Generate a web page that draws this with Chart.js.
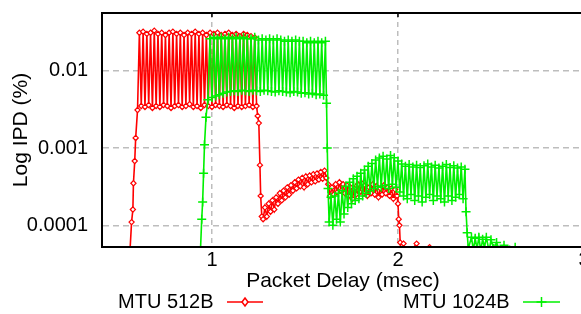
<!DOCTYPE html>
<html lang="en">
<head>
<meta charset="UTF-8">
<title>Log IPD vs Packet Delay</title>
<script src="https://cdn.jsdelivr.net/npm/chart.js"></script>
<style>
  html, body { margin: 0; padding: 0; background: #fff; overflow: hidden; }
  #chart { display: block; }
</style>
</head>
<body>
<canvas id="chart" width="600" height="314"></canvas>
<script>
// Series names and axis ticks
const seriesNames = ['MTU 512B', 'MTU 1024B'];
const xTicks = [1, 2, 3];
const yTicks = [0.0001, 0.001, 0.01];
const yTickLabels = ['0.0001', '0.001', '0.01'];
const xMin = 0.409, xMax = 3;
const yMin = 0.0000524, yMax = 0.0558;

// MTU 512B (red)
const redX = [
  0.555, 0.568, 0.575, 0.578, 0.585, 0.590, 0.600,
  0.610, 0.620, 0.630, 0.640, 0.650, 0.660, 0.670, 0.680, 0.690, 0.700,
  0.710, 0.720, 0.730, 0.740, 0.750, 0.760, 0.770, 0.780, 0.790, 0.800,
  0.810, 0.820, 0.830, 0.840, 0.850, 0.860, 0.870, 0.880, 0.890, 0.900,
  0.910, 0.920, 0.930, 0.940, 0.950, 0.960, 0.970, 0.980, 0.990, 1.000,
  1.010, 1.020, 1.030, 1.040, 1.050, 1.060, 1.070, 1.080, 1.090, 1.100,
  1.110, 1.120, 1.130, 1.140, 1.150, 1.160, 1.170, 1.180, 1.190, 1.200,
  1.210, 1.220, 1.230, 1.240,
  1.246, 1.252, 1.258, 1.262, 1.268,
  1.275, 1.285, 1.295, 1.305, 1.315, 1.325, 1.335, 1.345, 1.355, 1.365,
  1.375, 1.385, 1.395, 1.405, 1.415, 1.425, 1.435, 1.445, 1.455, 1.465,
  1.475, 1.485, 1.495, 1.505, 1.515, 1.525, 1.535, 1.545, 1.555, 1.565,
  1.575, 1.585, 1.595, 1.605, 1.615,
  1.625, 1.635, 1.645, 1.655, 1.665, 1.675, 1.685, 1.695, 1.705, 1.715,
  1.725, 1.735, 1.745, 1.755, 1.765, 1.775, 1.785, 1.795, 1.805, 1.815,
  1.825, 1.835, 1.845, 1.855, 1.865, 1.875, 1.885, 1.895, 1.905, 1.915,
  1.925, 1.935, 1.945, 1.955, 1.965, 1.975, 1.985, 1.995,
  2.000, 2.004, 2.008, 2.012, 2.020, 2.030, 2.050, 2.100, 2.120, 2.170, 2.180
];
const redY = [
  0.00003, 0.00011, 0.00016, 0.00035, 0.00068, 0.00135, 0.0031,
  0.031, 0.0035, 0.032, 0.0034, 0.030, 0.0036, 0.031, 0.0033, 0.033, 0.0035,
  0.030, 0.0034, 0.031, 0.0036, 0.029, 0.0035, 0.031, 0.0033, 0.032, 0.0035,
  0.030, 0.0036, 0.031, 0.0034, 0.029, 0.0035, 0.031, 0.0037, 0.030, 0.0034,
  0.032, 0.0035, 0.030, 0.0033, 0.031, 0.0036, 0.029, 0.0035, 0.031, 0.0034,
  0.030, 0.0036, 0.031, 0.0035, 0.029, 0.0034, 0.030, 0.0036, 0.031, 0.0035,
  0.029, 0.0033, 0.030, 0.0035, 0.028, 0.0034, 0.030, 0.0035, 0.029, 0.0036,
  0.028, 0.0034, 0.027, 0.0035,
  0.0026, 0.0021, 0.0006, 0.00024, 0.00013,
  0.00012, 0.00017, 0.00013, 0.00019, 0.00015, 0.00021, 0.00016, 0.00023, 0.00019, 0.00026,
  0.00021, 0.00028, 0.00023, 0.00031, 0.00025, 0.00033, 0.00028, 0.00036, 0.00030, 0.00039,
  0.00032, 0.00041, 0.00031, 0.00043, 0.00034, 0.00044, 0.00036, 0.00046, 0.00037, 0.00047,
  0.00039, 0.00049, 0.00040, 0.00051, 0.00041,
  0.00034, 0.00024, 0.00031, 0.00025, 0.00034, 0.00027, 0.00036, 0.00028, 0.00034, 0.00026,
  0.00033, 0.00024, 0.00031, 0.00022, 0.00030, 0.00025, 0.00034, 0.00027, 0.00035, 0.00026,
  0.00033, 0.00024, 0.00031, 0.00026, 0.00034, 0.00025, 0.00032, 0.00023, 0.00030, 0.00025,
  0.00033, 0.00026, 0.00031, 0.00024, 0.00030, 0.00022, 0.00029, 0.00024,
  0.00019, 0.00012, 0.0001, 0.00006, 0.00004, 0.000058, 0.00004, 0.000058, 0.00004, 0.000052, 0.00003
];

// MTU 1024B (green)
const greenX = [
  0.935, 0.945, 0.950, 0.955, 0.960, 0.968, 0.978,
  0.990, 1.000, 1.010, 1.020, 1.030, 1.040, 1.050, 1.060, 1.070, 1.080,
  1.090, 1.100, 1.110, 1.120, 1.130, 1.140, 1.150, 1.160, 1.170, 1.180,
  1.190, 1.200, 1.210, 1.220, 1.230, 1.240, 1.250, 1.260, 1.270, 1.280,
  1.290, 1.300, 1.310, 1.320, 1.330, 1.340, 1.350, 1.360, 1.370, 1.380,
  1.390, 1.400, 1.410, 1.420, 1.430, 1.440, 1.450, 1.460, 1.470, 1.480,
  1.490, 1.500, 1.510, 1.520, 1.530, 1.540, 1.550, 1.560, 1.570, 1.580,
  1.590, 1.600, 1.610,
  1.616, 1.620, 1.624,
  1.630, 1.640, 1.650, 1.660, 1.670, 1.680, 1.690, 1.700, 1.710, 1.720,
  1.730, 1.740, 1.750, 1.760, 1.770, 1.780, 1.790, 1.800, 1.810, 1.820,
  1.830, 1.840, 1.850, 1.860, 1.870, 1.880, 1.890, 1.900, 1.910, 1.920,
  1.930, 1.940, 1.950, 1.960, 1.970, 1.980, 1.990, 2.000, 2.010, 2.020,
  2.030, 2.040, 2.050, 2.060, 2.070, 2.080, 2.090, 2.100, 2.110, 2.120,
  2.130, 2.140, 2.150, 2.160, 2.170, 2.180, 2.190, 2.200, 2.210, 2.220,
  2.230, 2.240, 2.250, 2.260, 2.270, 2.280, 2.290, 2.300, 2.310, 2.320,
  2.330, 2.340, 2.350, 2.360, 2.366, 2.372, 2.378,
  2.395, 2.405, 2.415, 2.425, 2.435, 2.445, 2.455, 2.465, 2.475, 2.490,
  2.500, 2.515, 2.530, 2.550, 2.570, 2.600, 2.630, 2.650
];
const greenY = [
  0.00003, 0.00012, 0.0002, 0.00047, 0.0011, 0.0025, 0.0042,
  0.026, 0.0045, 0.027, 0.0047, 0.026, 0.0049, 0.027, 0.0051, 0.026, 0.0053,
  0.027, 0.0054, 0.026, 0.0055, 0.027, 0.0054, 0.026, 0.0056, 0.027, 0.0055,
  0.026, 0.0054, 0.026, 0.0056, 0.027, 0.0055, 0.025, 0.0054, 0.026, 0.0056,
  0.025, 0.0055, 0.026, 0.0054, 0.025, 0.0053, 0.026, 0.0055, 0.025, 0.0054,
  0.024, 0.0053, 0.025, 0.0052, 0.024, 0.0054, 0.025, 0.0053, 0.024, 0.0051,
  0.024, 0.0052, 0.023, 0.0050, 0.024, 0.0051, 0.023, 0.0049, 0.024, 0.0050,
  0.023, 0.0048, 0.024,
  0.0038, 0.001, 0.0003,
  0.00011, 0.00023, 0.00010, 0.00024, 0.00012, 0.00026, 0.00011, 0.00028, 0.00014, 0.00032,
  0.00017, 0.00036, 0.00019, 0.00040, 0.00021, 0.00043, 0.00022, 0.00047, 0.00024, 0.00052,
  0.00026, 0.00058, 0.00028, 0.00063, 0.00030, 0.00070, 0.00032, 0.00074, 0.00031, 0.00078,
  0.00033, 0.00072, 0.00030, 0.00080, 0.00034, 0.00075, 0.00031, 0.00068, 0.00027, 0.00062,
  0.00024, 0.00058, 0.00022, 0.00061, 0.00025, 0.00057, 0.00021, 0.00060, 0.00024, 0.00056,
  0.00020, 0.00059, 0.00023, 0.00062, 0.00025, 0.00057, 0.00021, 0.00060, 0.00024, 0.00055,
  0.00022, 0.00058, 0.00020, 0.00061, 0.00024, 0.00056, 0.00021, 0.00059, 0.00023, 0.00055,
  0.00025, 0.00057, 0.00022, 0.00053, 0.00015, 0.00008, 0.00005,
  0.00007, 0.000048, 0.000068, 0.00005, 0.00007, 0.000047, 0.000066, 0.000052, 0.00007, 0.000046,
  0.000065, 0.00005, 0.00006, 0.000045, 0.000055, 0.000048, 0.000052, 0.00004
];

const RED = '#ff0000';
const GREEN = '#00f000';

function toPoints(xs, ys) {
  return xs.map((x, i) => ({ x: x, y: ys[i] }));
}

// frame round the plot area plus the gnuplot-style legend under the axis
const framePlugin = {
  id: 'frame',
  afterDatasetsDraw(chart) {
    const { ctx, chartArea: a, scales } = chart;
    ctx.save();
    ctx.strokeStyle = '#000';
    ctx.lineWidth = 2;
    ctx.strokeRect(a.left, a.top, a.right - a.left, a.bottom - a.top);
    ctx.lineWidth = 1.5;
    xTicks.forEach(v => {
      const px = scales.x.getPixelForValue(v);
      ctx.beginPath();
      ctx.moveTo(px, a.top);
      ctx.lineTo(px, a.top + 4);
      ctx.stroke();
    });
    ctx.restore();
  },
  afterDraw(chart) {
    const ctx = chart.ctx;
    const y = 302;
    const items = [
      { text: seriesNames[0], color: RED, textX: 118, x1: 227, x2: 263, marker: 'diamond' },
      { text: seriesNames[1], color: GREEN, textX: 403, x1: 523, x2: 560, marker: 'plus' }
    ];
    ctx.save();
    ctx.font = '20px "Liberation Sans", Arial, sans-serif';
    ctx.textBaseline = 'middle';
    ctx.textAlign = 'left';
    items.forEach(it => {
      ctx.fillStyle = '#000';
      ctx.fillText(it.text, it.textX, y);
      ctx.strokeStyle = it.color;
      ctx.lineWidth = 1.5;
      ctx.beginPath();
      ctx.moveTo(it.x1, y);
      ctx.lineTo(it.x2, y);
      ctx.stroke();
      const cx = (it.x1 + it.x2) / 2;
      ctx.beginPath();
      if (it.marker === 'diamond') {
        ctx.fillStyle = '#fff';
        ctx.moveTo(cx, y - 4);
        ctx.lineTo(cx + 3, y);
        ctx.lineTo(cx, y + 4);
        ctx.lineTo(cx - 3, y);
        ctx.closePath();
        ctx.fill();
        ctx.stroke();
      } else {
        ctx.moveTo(cx - 5, y);
        ctx.lineTo(cx + 5, y);
        ctx.moveTo(cx, y - 5);
        ctx.lineTo(cx, y + 5);
        ctx.stroke();
      }
    });
    ctx.restore();
  }
};

Chart.defaults.font.family = '"Liberation Sans", Arial, sans-serif';
Chart.defaults.color = '#000';

new Chart(document.getElementById('chart'), {
  type: 'line',
  data: {
    datasets: [
      {
        label: seriesNames[0],
        data: toPoints(redX, redY),
        borderColor: RED,
        borderWidth: 1.6,
        pointStyle: 'rectRot',
        pointRadius: 2.6,
        pointBorderWidth: 1.2,
        pointBorderColor: RED,
        pointBackgroundColor: '#fff',
        tension: 0,
        order: 1
      },
      {
        label: seriesNames[1],
        data: toPoints(greenX, greenY),
        borderColor: GREEN,
        borderWidth: 1.6,
        pointStyle: 'cross',
        pointRadius: 4.5,
        pointBorderWidth: 1.5,
        pointBorderColor: GREEN,
        tension: 0,
        order: 0
      }
    ]
  },
  options: {
    responsive: false,
    animation: false,
    layout: { padding: { top: 13, right: 16, bottom: 16, left: 0 } },
    plugins: {
      legend: { display: false },
      tooltip: { enabled: false }
    },
    scales: {
      x: {
        type: 'linear',
        min: xMin,
        max: xMax,
        bounds: 'data',
        afterBuildTicks: s => { s.ticks = xTicks.map(v => ({ value: v })); s.min = xMin; s.max = xMax; },
        afterFit: s => { s.height = 51; s.paddingLeft = 0; s.paddingRight = 0; },
        ticks: { font: { size: 20 }, padding: 1, callback: v => String(v) },
        grid: { color: '#bdbdbd', lineWidth: 1.5, drawTicks: false },
        border: { display: true, color: '#000', width: 2, dash: [5, 4] },
        title: {
          display: true,
          text: 'Packet Delay (msec)',
          font: { size: 21 },
          padding: { top: 0, bottom: 4 }
        }
      },
      y: {
        type: 'logarithmic',
        min: yMin,
        max: yMax,
        bounds: 'data',
        afterBuildTicks: s => { s.ticks = yTicks.map(v => ({ value: v })); s.min = yMin; s.max = yMax; },
        afterFit: s => { s.width = 102; s.paddingTop = 0; s.paddingBottom = 0; },
        ticks: { font: { size: 20 }, padding: 14, callback: (v, i) => yTickLabels[i] },
        grid: { color: '#bdbdbd', lineWidth: 1.5, drawTicks: false },
        border: { display: true, color: '#000', width: 2, dash: [6, 4] },
        title: {
          display: true,
          text: 'Log IPD (%)',
          font: { size: 21 },
          padding: { top: 9, bottom: 0 }
        }
      }
    }
  },
  plugins: [framePlugin]
});
</script>
</body>
</html>
